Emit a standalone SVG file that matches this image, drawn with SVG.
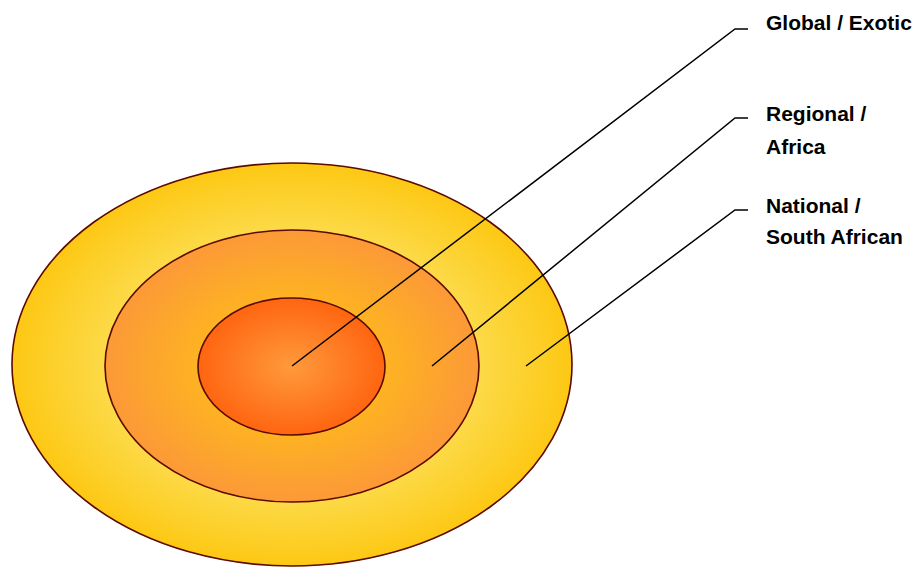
<svg xmlns="http://www.w3.org/2000/svg" width="915" height="567" viewBox="0 0 915 567">
<defs>
<radialGradient id="gOuter" cx="0.5" cy="0.5" r="0.5">
<stop offset="0" stop-color="#FDF07A"/>
<stop offset="0.55" stop-color="#FCE05A"/>
<stop offset="1" stop-color="#FDC814"/>
</radialGradient>
<radialGradient id="gMid" cx="0.5" cy="0.5" r="0.5">
<stop offset="0" stop-color="#FFC21A"/>
<stop offset="0.55" stop-color="#FDB024"/>
<stop offset="1" stop-color="#FC9938"/>
</radialGradient>
<radialGradient id="gInner" cx="0.5" cy="0.5" r="0.5">
<stop offset="0" stop-color="#FE9A3C"/>
<stop offset="1" stop-color="#FF6510"/>
</radialGradient>
<style>
.ring{stroke:#5A0A00;stroke-width:1.6}
.lead{fill:none;stroke:#000;stroke-width:1.5}
.lbl{font-family:"Liberation Sans",Arial,sans-serif;font-weight:bold;font-size:21px;fill:#000}
</style>
</defs>
<g id="outer"><ellipse class="ring" cx="292" cy="364.5" rx="280" ry="201.5" fill="url(#gOuter)"/></g>
<g id="middle"><ellipse class="ring" cx="292" cy="366" rx="187" ry="136" fill="url(#gMid)"/></g>
<g id="inner"><ellipse class="ring" cx="291.5" cy="366.5" rx="93.5" ry="68.5" fill="url(#gInner)"/></g>
<g id="connectors">
<polyline class="lead" points="292,366 735,29 748,29"/>
<polyline class="lead" points="432,366 735,118 748,118"/>
<polyline class="lead" points="526,366 735,210 748,210"/>
</g>
<g id="label-global"><text class="lbl" x="766" y="30">Global / Exotic</text></g>
<g id="label-regional"><text class="lbl" x="766" y="121">Regional /</text><text class="lbl" x="766" y="154">Africa</text></g>
<g id="label-national"><text class="lbl" x="766" y="213">National /</text><text class="lbl" x="766" y="244">South African</text></g>
</svg>
